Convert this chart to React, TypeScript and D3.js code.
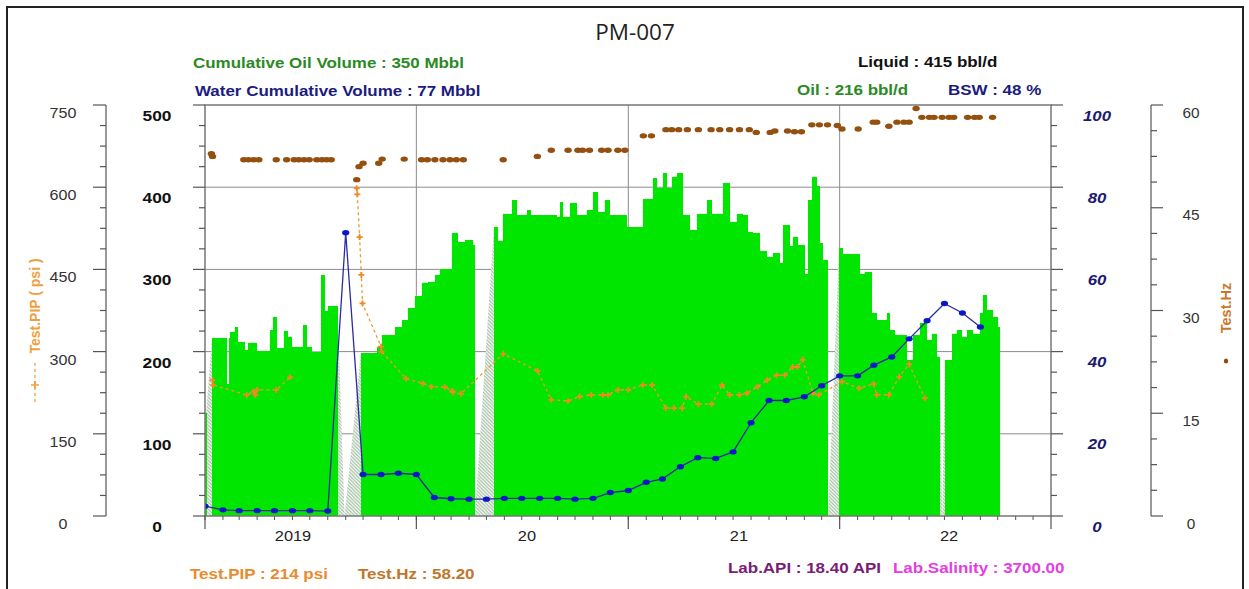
import React from "react";
import * as d3 from "d3";

const parse = d3.utcParse("%Y-%m-%d");

// ---------- DATA ----------
const xDomain = ["2019-01-01", "2023-01-01"];
const xTickLabels = ["2019", "20", "21", "22"];
const xTickLabelDates = ["2019-06-02", "2020-07-10", "2021-07-11", "2022-07-09"];

// Liquid rate (bbl/d), left inner axis. null = bar ends, 0 = downtime point
const liquidRate: [string, number | null][] = [
  ["2019-01-01", 125], ["2019-01-03", null], ["2019-01-13", 216], ["2019-02-08", 160],
  ["2019-02-11", 216], ["2019-02-13", 224], ["2019-02-21", 230], ["2019-02-27", 212],
  ["2019-03-11", 202], ["2019-03-16", 211], ["2019-03-31", 201], ["2019-04-23", 226],
  ["2019-04-28", 242], ["2019-05-05", 204], ["2019-05-17", 225], ["2019-05-24", 218],
  ["2019-05-31", 206], ["2019-06-19", 232], ["2019-06-26", 206], ["2019-07-04", 200],
  ["2019-07-20", 293], ["2019-07-27", 250], ["2019-08-01", 255], ["2019-08-18", null],
  ["2019-08-30", 0], ["2019-09-27", 198], ["2019-10-25", 206], ["2019-11-02", 220],
  ["2019-11-25", 230], ["2019-12-07", 238], ["2019-12-17", 253], ["2019-12-29", 268],
  ["2020-01-10", 284], ["2020-01-21", 285], ["2020-02-02", 293], ["2020-02-10", 300],
  ["2020-03-02", 344], ["2020-03-12", 333], ["2020-03-25", 336], ["2020-04-07", 330],
  ["2020-04-11", 0], ["2020-05-14", 352], ["2020-05-21", 334], ["2020-05-29", 368],
  ["2020-06-15", 384], ["2020-06-22", 366], ["2020-07-10", 372], ["2020-07-17", 366],
  ["2020-08-30", 364], ["2020-09-05", 382], ["2020-09-10", 364], ["2020-09-22", 381],
  ["2020-10-04", 366], ["2020-10-21", 372], ["2020-11-01", 394], ["2020-11-09", 370],
  ["2020-11-21", 384], ["2020-11-30", 366], ["2020-12-29", 352], ["2021-01-26", 386],
  ["2021-02-12", 411], ["2021-02-19", 399], ["2021-03-02", 417], ["2021-03-08", 399],
  ["2021-03-17", 413], ["2021-03-26", 417], ["2021-04-05", 366], ["2021-04-17", 348],
  ["2021-04-29", 368], ["2021-05-17", 384], ["2021-05-25", 368], ["2021-06-13", 405],
  ["2021-06-25", 358], ["2021-07-07", 368], ["2021-07-18", 366], ["2021-07-26", 346],
  ["2021-08-04", 344], ["2021-08-16", 322], ["2021-08-28", 315], ["2021-09-08", 320],
  ["2021-09-20", 308], ["2021-09-25", 354], ["2021-10-07", 328], ["2021-10-12", 340],
  ["2021-10-21", 330], ["2021-11-02", 295], ["2021-11-07", 384], ["2021-11-14", 413],
  ["2021-11-22", 401], ["2021-11-28", 332], ["2021-12-03", 311], ["2021-12-12", 0],
  ["2021-12-31", 326], ["2022-01-06", 319], ["2022-02-05", 295], ["2022-02-13", 297],
  ["2022-02-25", 247], ["2022-03-06", 238], ["2022-03-23", 247], ["2022-03-28", 226],
  ["2022-04-06", 220], ["2022-04-27", 190], ["2022-05-07", 220], ["2022-05-19", 235],
  ["2022-06-01", 214], ["2022-06-09", 222], ["2022-06-18", 194], ["2022-06-23", null],
  ["2022-06-27", 0], ["2022-07-02", 190], ["2022-07-14", 222], ["2022-07-22", 226],
  ["2022-07-31", 218], ["2022-08-09", 226], ["2022-08-19", 222], ["2022-08-31", 247],
  ["2022-09-05", 269], ["2022-09-12", 251], ["2022-09-23", 242], ["2022-10-01", 230],
  ["2022-10-05", 0],
];

// Monthly water series (right inner axis, 0-100)
const waterStart = "2019-01-01";
const waterValues = [
  2.4, 1.5, 1.3, 1.3, 1.3, 1.3, 1.3, 1.2, 68.9, 10.1, 10.1, 10.4,
  10.1, 4.5, 4.2, 4.1, 4.1, 4.3, 4.3, 4.3, 4.3, 4.1, 4.3, 5.7,
  6.2, 8.2, 9.0, 12.0, 14.2, 14.0, 15.6, 22.7, 28.1, 28.1, 29.0, 31.7,
  34.1, 34.1, 36.7, 38.7, 43.1, 47.5, 51.7, 49.4, 46.0,
];

// Test.PIP (psi), left outer axis; null = break in the dashed line
const pipTests: [string, number | null][] = [
  ["2019-01-14", 248], ["2019-01-15", 239], ["2019-03-14", 221], ["2019-03-26", 227],
  ["2019-03-29", 221], ["2019-04-01", 230], ["2019-05-04", 230], ["2019-05-28", 253],
  ["2019-07-01", null], ["2019-09-20", 598], ["2019-09-21", 587], ["2019-09-25", 509],
  ["2019-09-28", 440], ["2019-09-30", 388], ["2019-11-01", 309], ["2019-11-02", 300],
  ["2019-12-14", 251], ["2020-01-12", 242], ["2020-01-27", 236], ["2020-02-19", 235],
  ["2020-03-03", 228], ["2020-03-04", 226], ["2020-03-18", 223], ["2020-05-30", 296],
  ["2020-07-28", 265], ["2020-08-21", 212], ["2020-09-19", 210], ["2020-10-09", 218],
  ["2020-10-29", 221], ["2020-11-18", 221], ["2020-11-27", 221], ["2020-12-14", 230],
  ["2021-01-01", 230], ["2021-01-26", 239], ["2021-02-11", 239], ["2021-03-07", 197],
  ["2021-03-21", 197], ["2021-04-04", 197], ["2021-04-11", 218], ["2021-05-02", 204],
  ["2021-05-25", 204], ["2021-06-12", 239], ["2021-06-25", 221], ["2021-07-12", 221],
  ["2021-07-25", 224], ["2021-08-12", 236], ["2021-08-29", 248], ["2021-09-14", 257],
  ["2021-09-28", 257], ["2021-10-12", 272], ["2021-10-20", 272], ["2021-10-29", 285],
  ["2021-11-16", 224], ["2021-11-26", 221], ["2022-01-05", 245], ["2022-02-04", 233],
  ["2022-03-01", 241], ["2022-03-06", 221], ["2022-03-27", 221], ["2022-04-14", 254],
  ["2022-05-01", 277], ["2022-05-28", 215],
];

// Test.Hz, right outer axis
const hzTests: [string, number][] = [
  ["2019-01-12", 52.9], ["2019-01-14", 52.5], ["2019-03-09", 52.0], ["2019-03-17", 52.0],
  ["2019-03-26", 52.0], ["2019-04-04", 52.0], ["2019-05-04", 52.0], ["2019-05-22", 52.0],
  ["2019-06-04", 52.0], ["2019-06-12", 52.0], ["2019-06-21", 52.0], ["2019-06-30", 52.0],
  ["2019-07-13", 52.0], ["2019-07-22", 52.0], ["2019-07-30", 52.0], ["2019-08-07", 52.0],
  ["2019-09-20", 49.1], ["2019-09-24", 51.0], ["2019-10-01", 51.5], ["2019-10-28", 51.5],
  ["2019-11-03", 52.1], ["2019-12-11", 52.1], ["2020-01-10", 52.0], ["2020-01-20", 52.0],
  ["2020-02-02", 52.0], ["2020-02-16", 52.0], ["2020-02-28", 52.0], ["2020-03-10", 52.0],
  ["2020-03-22", 52.0], ["2020-05-30", 52.0], ["2020-07-28", 52.5], ["2020-08-21", 53.4],
  ["2020-09-19", 53.4], ["2020-10-06", 53.4], ["2020-10-14", 53.4], ["2020-10-26", 53.4],
  ["2020-11-16", 53.4], ["2020-11-27", 53.4], ["2020-12-14", 53.4], ["2020-12-26", 53.4],
  ["2021-01-27", 55.5], ["2021-02-10", 55.5], ["2021-03-07", 56.4], ["2021-03-17", 56.4],
  ["2021-03-29", 56.4], ["2021-04-13", 56.4], ["2021-05-02", 56.4], ["2021-05-24", 56.4],
  ["2021-06-08", 56.4], ["2021-06-25", 56.4], ["2021-07-12", 56.4], ["2021-07-29", 56.4],
  ["2021-08-10", 56.0], ["2021-09-03", 56.0], ["2021-09-11", 56.2], ["2021-10-03", 56.2],
  ["2021-10-15", 56.1], ["2021-10-27", 56.1], ["2021-11-14", 57.1], ["2021-11-27", 57.1],
  ["2021-12-11", 57.1], ["2021-12-28", 57.0], ["2022-01-05", 56.5], ["2022-02-02", 56.5],
  ["2022-02-28", 57.5], ["2022-03-06", 57.5], ["2022-03-27", 56.9], ["2022-04-10", 57.5],
  ["2022-04-22", 57.5], ["2022-05-01", 57.5], ["2022-05-13", 59.5], ["2022-05-23", 58.2],
  ["2022-06-05", 58.2], ["2022-06-13", 58.2], ["2022-06-27", 58.2], ["2022-07-09", 58.2],
  ["2022-07-17", 58.2], ["2022-08-10", 58.2], ["2022-08-22", 58.2], ["2022-08-30", 58.2],
  ["2022-09-22", 58.2],
];

const headerTexts = {
  title: "PM-007",
  cumOil: "Cumulative Oil Volume : 350 Mbbl",
  cumWater: "Water Cumulative Volume : 77 Mbbl",
  liquid: "Liquid : 415 bbl/d",
  oil: "Oil : 216 bbl/d",
  bsw: "BSW : 48 %",
  pip: "Test.PIP : 214 psi",
  hz: "Test.Hz : 58.20",
  api: "Lab.API : 18.40 API",
  salinity: "Lab.Salinity : 3700.00",
};

// ---------- LAYOUT ----------
const W = 1249, H = 589;
const PL = 205, PR = 1051, PT = 105, PB = 516;
const FONT = "'Liberation Sans', Arial, sans-serif";

function T(props: {
  x: number; y: number; text: string; size: number; fill: string;
  bold?: boolean; italic?: boolean; anchor?: string; sx?: number; family?: string;
}) {
  const { x, y, text, size, fill, bold, italic, anchor = "start", sx = 1.17, family = FONT } = props;
  return (
    <text
      transform={`translate(${x},${y}) scale(${sx},1)`}
      fontFamily={family}
      fontSize={size}
      fontWeight={bold ? 700 : 400}
      fontStyle={italic ? "italic" : "normal"}
      fill={fill}
      textAnchor={anchor}
    >
      {text}
    </text>
  );
}

export default function App() {
  const x = d3.scaleUtc().domain(xDomain.map((d) => parse(d)!)).range([PL, PR]);
  const yLiq = d3.scaleLinear().domain([0, 500]).range([PB, PT]);
  const yPip = d3.scaleLinear().domain([0, 750]).range([PB, PT]);
  const yWat = d3.scaleLinear().domain([0, 100]).range([PB, PT]);
  const yHz = d3.scaleLinear().domain([0, 60]).range([PB, PT]);

  // Liquid bars + hatched interpolation
  const liq = liquidRate.map(([d, v]) => ({ t: parse(d)!, v }));
  const bars: { x0: number; x1: number; v: number }[] = [];
  const hatchPts: [number, number][] = [];
  liq.forEach((a, i) => {
    const next = liq[i + 1];
    if (a.v === null) return;
    hatchPts.push([x(a.t), yLiq(a.v)]);
    if (a.v > 0 && next) {
      bars.push({ x0: x(a.t), x1: x(next.t), v: a.v });
      hatchPts.push([x(next.t), yLiq(a.v)]);
    }
  });
  const hatchArea = d3.area<[number, number]>().x((d) => d[0]).y0(PB).y1((d) => d[1])(hatchPts) || "";

  // Water
  const wStart = parse(waterStart)!;
  const water = waterValues.map((v, i) => ({ t: d3.utcMonth.offset(wStart, i), v }));
  const waterLine = d3.line<{ t: Date; v: number }>().x((d) => x(d.t)).y((d) => yWat(d.v))(water) || "";

  // PIP
  const pip = pipTests.map(([d, v]) => ({ t: parse(d)!, v }));
  const pipLine =
    d3.line<{ t: Date; v: number | null }>()
      .defined((d) => d.v !== null)
      .x((d) => x(d.t))
      .y((d) => yPip(d.v as number))(pip) || "";

  const hz = hzTests.map(([d, v]) => ({ t: parse(d)!, v }));

  // ticks
  const years = d3.utcYear.range(parse(xDomain[0])!, d3.utcDay.offset(parse(xDomain[1])!, 1));
  const months = d3.utcMonth.range(parse(xDomain[0])!, parse(xDomain[1])!);

  const axisColor = "#555";
  const gridColor = "#8c8c8c";

  return (
    <svg width={W} height={H} style={{ position: "absolute", left: 0, top: 0, background: "#fff" }}>
      <defs>
        <pattern id="hatch" patternUnits="userSpaceOnUse" width="3.5" height="3.5">
          <rect width="3.5" height="3.5" fill="#f4f8f4" />
          <path d="M-1,-1 L4.5,4.5 M-1,2.5 L1,4.5 M2.5,-1 L4.5,1" stroke="#94b494" strokeWidth="0.9" />
        </pattern>
        <clipPath id="plotClip">
          <rect x={PL} y={PT} width={PR - PL} height={PB - PT} />
        </clipPath>
      </defs>

      {/* outer frame */}
      <rect x={7} y={7} width={1236} height={620} fill="none" stroke="#222" strokeWidth={2} />

      {/* header */}
      <T x={635} y={40} text={headerTexts.title} size={21} fill="#222" anchor="middle" sx={1.07}
        family="'Open Sans', 'Noto Sans', sans-serif" />
      <T x={193} y={68} text={headerTexts.cumOil} size={14.5} fill="#2b8a24" bold />
      <T x={195} y={96} text={headerTexts.cumWater} size={14.5} fill="#1c1c80" bold />
      <T x={858} y={67} text={headerTexts.liquid} size={14.5} fill="#111" bold />
      <T x={797} y={95} text={headerTexts.oil} size={14.5} fill="#2b8a24" bold />
      <T x={948} y={95} text={headerTexts.bsw} size={14.5} fill="#1c1c80" bold />

      {/* gridlines */}
      {yLiq.ticks(5).filter((v) => v > 0 && v < 500).map((v) => (
        <line key={"hg" + v} x1={PL} x2={PR} y1={yLiq(v)} y2={yLiq(v)} stroke={gridColor} strokeWidth={1} />
      ))}
      {years.slice(1, -1).map((d) => (
        <line key={"vg" + d.getTime()} x1={x(d)} x2={x(d)} y1={PT} y2={PB} stroke={gridColor} strokeWidth={1} />
      ))}

      <g clipPath="url(#plotClip)">
        {/* hatched interpolation */}
        <path d={hatchArea} fill="url(#hatch)" />
        {/* liquid bars */}
        {bars.map((b, i) => (
          <rect key={"b" + i} x={b.x0} y={yLiq(b.v)} width={b.x1 - b.x0 + 0.4} height={PB - yLiq(b.v)}
            fill="#00e600" shapeRendering="crispEdges" />
        ))}

        {/* PIP */}
        <path d={pipLine} fill="none" stroke="#f0982e" strokeWidth={1.3} strokeDasharray="3,3" />
        {pip.filter((d) => d.v !== null).map((d, i) => {
          const cx = x(d.t), cy = yPip(d.v as number);
          return (
            <path key={"p" + i} d={`M${cx - 3},${cy}H${cx + 3}M${cx},${cy - 3}V${cy + 3}`}
              stroke="#ee8a22" strokeWidth={1.8} fill="none" />
          );
        })}

        {/* Water */}
        <path d={waterLine} fill="none" stroke="#2a2aa6" strokeWidth={1.3} />
        {water.map((d, i) => (
          <ellipse key={"w" + i} cx={x(d.t)} cy={yWat(d.v)} rx={3.6} ry={2.7} fill="#0b18c8" />
        ))}

        {/* Hz */}
        {hz.map((d, i) => (
          <ellipse key={"h" + i} cx={x(d.t)} cy={yHz(d.v)} rx={3.7} ry={2.7} fill="#93500f" />
        ))}
      </g>

      {/* plot border */}
      <rect x={PL} y={PT} width={PR - PL} height={PB - PT} fill="none" stroke="#777" strokeWidth={1.5} />

      {/* bottom axis */}
      {months.map((d) => (
        <line key={"mt" + d.getTime()} x1={x(d)} x2={x(d)} y1={PB} y2={PB + 4} stroke={axisColor} strokeWidth={1} />
      ))}
      {years.map((d) => (
        <line key={"yt" + d.getTime()} x1={x(d)} x2={x(d)} y1={PB} y2={PB + 13} stroke={axisColor} strokeWidth={1.2} />
      ))}
      {xTickLabels.map((lab, i) => (
        <T key={"xl" + i} x={x(parse(xTickLabelDates[i])!)} y={541} text={lab} size={14} fill="#222" anchor="middle" />
      ))}

      {/* left inner axis (liquid) */}
      {d3.range(0, 501, 25).map((v) => (
        <line key={"li" + v} x1={PL - (v % 100 === 0 ? 12 : 6)} x2={PL} y1={yLiq(v)} y2={yLiq(v)}
          stroke={axisColor} strokeWidth={1.2} />
      ))}
      {yLiq.ticks(5).map((v) => (
        <T key={"lil" + v} x={157} y={yLiq(v) + 16} text={String(v)} size={15.5} fill="#111" bold anchor="middle" sx={1.12} />
      ))}

      {/* left outer axis (PIP) */}
      <line x1={106} x2={106} y1={PT} y2={PB} stroke={axisColor} strokeWidth={1.2} />
      {d3.range(0, 751, 37.5).map((v) => (
        <line key={"lo" + v} x1={106 - (v % 150 === 0 ? 13 : 6)} x2={106} y1={yPip(v)} y2={yPip(v)}
          stroke={axisColor} strokeWidth={1.2} />
      ))}
      {d3.range(0, 751, 150).map((v) => (
        <T key={"lol" + v} x={63} y={yPip(v) + 13} text={String(v)} size={14} fill="#333" anchor="middle" sx={1.15} />
      ))}

      {/* right inner axis (water) */}
      {d3.range(0, 101, 5).map((v) => (
        <line key={"ri" + v} x1={PR} x2={PR + (v % 20 === 0 ? 12 : 6)} y1={yWat(v)} y2={yWat(v)}
          stroke={axisColor} strokeWidth={1.2} />
      ))}
      {d3.range(0, 101, 20).map((v) => (
        <T key={"ril" + v} x={1097} y={yWat(v) + 15.5} text={String(v)} size={15} fill="#1a1a72" bold italic anchor="middle" sx={1.12} />
      ))}

      {/* right outer axis (Hz) */}
      <line x1={1151} x2={1151} y1={PT} y2={PB} stroke={axisColor} strokeWidth={1.2} />
      {d3.range(0, 61, 3.75).map((v) => (
        <line key={"ro" + v} x1={1151} x2={1151 + (v % 15 === 0 ? 12 : 6)} y1={yHz(v)} y2={yHz(v)}
          stroke={axisColor} strokeWidth={1.2} />
      ))}
      {d3.range(0, 61, 15).map((v) => (
        <T key={"rol" + v} x={1191} y={yHz(v) + 12.5} text={String(v)} size={14} fill="#333" anchor="middle" sx={1.1} />
      ))}

      {/* rotated axis titles */}
      <text transform="translate(40,306) rotate(-90)" fontFamily={FONT} fontSize={14} fontWeight={700}
        fill="#f0a040" textAnchor="middle">Test.PIP ( psi )</text>
      <line x1={35} x2={35} y1={363} y2={405} stroke="#f0a040" strokeWidth={1.3} strokeDasharray="3,3" />
      <path d="M31,385H39M35,381V389" stroke="#f0a040" strokeWidth={1.6} />

      <text transform="translate(1231,308) rotate(-90)" fontFamily={FONT} fontSize={14.5} fontWeight={700}
        fill="#c8782c" textAnchor="middle">Test.Hz</text>
      <ellipse cx={1226} cy={361} rx={2.2} ry={2.6} fill="#8a4a12" />

      {/* footer */}
      <T x={190} y={579} text={headerTexts.pip} size={14.5} fill="#ea8a2c" bold />
      <T x={358} y={579} text={headerTexts.hz} size={14.5} fill="#c0762a" bold />
      <T x={728} y={573} text={headerTexts.api} size={14.5} fill="#7a1c78" bold />
      <T x={893} y={573} text={headerTexts.salinity} size={14.5} fill="#e23ee0" bold />
    </svg>
  );
}
